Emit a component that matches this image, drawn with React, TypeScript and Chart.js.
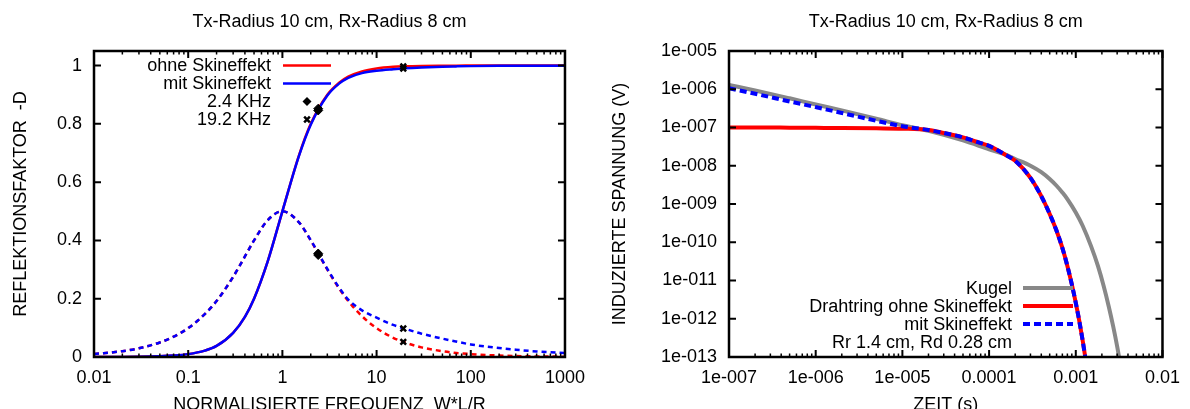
import React, { useEffect, useRef } from "react";
import { Chart, registerables } from "chart.js";

Chart.register(...registerables);

const FONT = "'Liberation Sans', Arial, Helvetica, sans-serif";
const FONT_SIZE = 18;
const CANVAS_W = 595;
const CANVAS_H = 420;
const PLOT_TOP = 51;
const PLOT_BOTTOM = 357;

const TITLE = "Tx-Radius 10 cm, Rx-Radius 8 cm";

// ---------- left chart: reflection factor vs normalised frequency ----------
const freq = [0.01, 0.02, 0.03, 0.05, 0.07, 0.1, 0.15, 0.2, 0.3, 0.4, 0.5, 0.7, 1, 1.5, 2, 3, 4, 5, 7, 10, 15, 20, 30, 50, 70, 100, 200, 300, 500, 1000];
const ohneReal = [0.0001, 0.0004, 0.0009, 0.0025, 0.0049, 0.0099, 0.022, 0.038, 0.083, 0.138, 0.2, 0.329, 0.5, 0.692, 0.8, 0.9, 0.941, 0.962, 0.98, 0.99, 0.9956, 0.9975, 0.9989, 0.9996, 0.9998, 0.9999, 1, 1, 1, 1];
const ohneImag = [0.01, 0.02, 0.03, 0.0499, 0.0697, 0.099, 0.147, 0.192, 0.275, 0.345, 0.4, 0.47, 0.5, 0.462, 0.4, 0.3, 0.235, 0.192, 0.14, 0.099, 0.066, 0.05, 0.033, 0.02, 0.014, 0.01, 0.005, 0.0033, 0.002, 0.001];
const mitReal = [0.0001, 0.0004, 0.0009, 0.0025, 0.0049, 0.0099, 0.022, 0.038, 0.083, 0.138, 0.2, 0.329, 0.5, 0.69, 0.797, 0.897, 0.938, 0.958, 0.974, 0.982, 0.9875, 0.9907, 0.9937, 0.9962, 0.9972, 0.9981, 0.9991, 0.9994, 0.9996, 0.9998];
const mitImag = [0.01, 0.02, 0.03, 0.0499, 0.0697, 0.099, 0.147, 0.192, 0.275, 0.345, 0.4, 0.47, 0.5, 0.462, 0.401, 0.302, 0.238, 0.197, 0.16, 0.135, 0.11, 0.097, 0.08, 0.063, 0.053, 0.043, 0.031, 0.025, 0.019, 0.0135];

const khz24X = [2.4, 2.4, 2.4, 2.4];
const khz24Y = [0.852, 0.846, 0.355, 0.35];
const khz192X = [19.2, 19.2, 19.2, 19.2];
const khz192Y = [0.9973, 0.99, 0.052, 0.098];

const freqTicks = [0.01, 0.1, 1, 10, 100, 1000];
const freqTickLabels = ["0.01", "0.1", "1", "10", "100", "1000"];
const reflTicks = [0, 0.2, 0.4, 0.6, 0.8, 1];
const reflTickLabels = ["0", "0.2", "0.4", "0.6", "0.8", "1"];

// ---------- right chart: induced voltage vs time ----------
const zeit = [1e-7, 2e-7, 5e-7, 1e-6, 2e-6, 5e-6, 1e-5, 2e-5, 3e-5, 5e-5, 7e-5, 1e-4, 1.5e-4, 2e-4, 3e-4, 4e-4, 5e-4, 6e-4, 7e-4, 8e-4, 9e-4, 1e-3, 1.1e-3, 1.2e-3, 1.3e-3];
const drahtOhne = [1e-7, 1e-7, 9.9e-8, 9.8e-8, 9.7e-8, 9.5e-8, 9.3e-8, 8.6e-8, 7.2e-8, 5.5e-8, 4.3e-8, 3.3e-8, 2.0e-8, 1.35e-8, 4.8e-9, 1.6e-9, 5.5e-10, 2.0e-10, 7.1e-11, 2.4e-11, 7.9e-12, 2.6e-12, 8.5e-13, 2.7e-13, 8.5e-14];
const drahtMit = [1.06e-6, 7.6e-7, 4.8e-7, 3.4e-7, 2.4e-7, 1.5e-7, 1.08e-7, 8.6e-8, 7.2e-8, 5.5e-8, 4.3e-8, 3.3e-8, 2.0e-8, 1.35e-8, 4.8e-9, 1.6e-9, 5.5e-10, 2.0e-10, 7.1e-11, 2.4e-11, 7.9e-12, 2.6e-12, 8.5e-13, 2.7e-13, 8.5e-14];
const kugelT = [1e-7, 2e-7, 5e-7, 1e-6, 2e-6, 5e-6, 1e-5, 2e-5, 5e-5, 1e-4, 1.5e-4, 2e-4, 3e-4, 4e-4, 5e-4, 6e-4, 7e-4, 8e-4, 1e-3, 1.2e-3, 1.5e-3, 1.8e-3, 2.1e-3, 2.4e-3, 2.7e-3, 3e-3, 3.3e-3];
const kugelV = [1.29e-6, 9.3e-7, 5.8e-7, 4.0e-7, 2.8e-7, 1.7e-7, 1.15e-7, 8.2e-8, 4.6e-8, 2.7e-8, 2.0e-8, 1.5e-8, 1.0e-8, 6.8e-9, 4.5e-9, 3.0e-9, 2.0e-9, 1.35e-9, 6.0e-10, 2.7e-10, 7.9e-11, 2.4e-11, 7.1e-12, 2.1e-12, 6.3e-13, 1.9e-13, 5.6e-14];

const zeitTicks = [1e-7, 1e-6, 1e-5, 1e-4, 1e-3, 1e-2];
const zeitTickLabels = ["1e-007", "1e-006", "1e-005", "0.0001", "0.001", "0.01"];
const spannungTicks = [1e-13, 1e-12, 1e-11, 1e-10, 1e-9, 1e-8, 1e-7, 1e-6, 1e-5];
const spannungTickLabels = ["1e-013", "1e-012", "1e-011", "1e-010", "1e-009", "1e-008", "1e-007", "1e-006", "1e-005"];

// ---------- helpers ----------
const pts = (xs: number[], ys: number[]) => xs.map((x, i) => ({ x, y: ys[i] }));
const logMinor = (from: number, to: number) => {
  const out: number[] = [];
  for (let e = from; e < to; e++) for (let m = 2; m <= 9; m++) out.push(m * Math.pow(10, e));
  return out;
};
const font = { family: FONT, size: FONT_SIZE, weight: "normal" as const };

type LegendItem = { label: string; kind: "line" | "dash" | "diamond" | "cross" | "none"; color: string; width: number; dash?: number[] };

function framePlugin(o: { xMajor: number[]; xMinor: number[]; yMajor: number[]; yMinor: number[]; title: string }) {
  return {
    id: "frame",
    afterDatasetsDraw(chart: any) {
      const { ctx, chartArea: a, scales } = chart;
      const sx = scales.x;
      const sy = scales.y;
      ctx.save();
      ctx.strokeStyle = "#000";
      const vt = (vals: number[], len: number, lw: number) => {
        ctx.lineWidth = lw;
        ctx.beginPath();
        for (const v of vals) {
          const p = sx.getPixelForValue(v);
          if (p < a.left - 0.5 || p > a.right + 0.5) continue;
          ctx.moveTo(p, a.bottom);
          ctx.lineTo(p, a.bottom - len);
          ctx.moveTo(p, a.top);
          ctx.lineTo(p, a.top + len);
        }
        ctx.stroke();
      };
      const ht = (vals: number[], len: number, lw: number) => {
        ctx.lineWidth = lw;
        ctx.beginPath();
        for (const v of vals) {
          const p = sy.getPixelForValue(v);
          if (p < a.top - 0.5 || p > a.bottom + 0.5) continue;
          ctx.moveTo(a.left, p);
          ctx.lineTo(a.left + len, p);
          ctx.moveTo(a.right, p);
          ctx.lineTo(a.right - len, p);
        }
        ctx.stroke();
      };
      vt(o.xMajor, 7, 2);
      vt(o.xMinor, 3.5, 1.5);
      ht(o.yMajor, 7, 2);
      ht(o.yMinor, 3.5, 1.5);
      ctx.lineWidth = 2.5;
      ctx.strokeRect(a.left, a.top, a.right - a.left, a.bottom - a.top);
      // chart title, centred over the plot area
      ctx.fillStyle = "#000";
      ctx.font = `${FONT_SIZE}px ${FONT}`;
      ctx.textAlign = "center";
      ctx.textBaseline = "middle";
      ctx.fillText(o.title, (a.left + a.right) / 2, 22);
      ctx.restore();
    },
  };
}

function legendPlugin(o: { textRight: number; x0: number; x1: number; y0: number; dy: number; items: LegendItem[] }) {
  return {
    id: "customLegend",
    afterDraw(chart: any) {
      const ctx: CanvasRenderingContext2D = chart.ctx;
      ctx.save();
      ctx.font = `${FONT_SIZE}px ${FONT}`;
      ctx.textAlign = "right";
      ctx.textBaseline = "middle";
      o.items.forEach((it, i) => {
        const y = o.y0 + i * o.dy;
        ctx.fillStyle = "#000";
        ctx.fillText(it.label, o.textRight, y + 1);
        const cx = (o.x0 + o.x1) / 2;
        if (it.kind === "line" || it.kind === "dash") {
          ctx.strokeStyle = it.color;
          ctx.lineWidth = it.width;
          ctx.setLineDash(it.kind === "dash" ? it.dash || [] : []);
          ctx.beginPath();
          ctx.moveTo(o.x0, y);
          ctx.lineTo(o.x1, y);
          ctx.stroke();
          ctx.setLineDash([]);
        } else if (it.kind === "diamond") {
          const r = 4.5;
          ctx.fillStyle = it.color;
          ctx.beginPath();
          ctx.moveTo(cx, y - r);
          ctx.lineTo(cx + r, y);
          ctx.lineTo(cx, y + r);
          ctx.lineTo(cx - r, y);
          ctx.closePath();
          ctx.fill();
        } else if (it.kind === "cross") {
          const r = 4 * Math.SQRT1_2;
          ctx.strokeStyle = it.color;
          ctx.lineWidth = it.width;
          ctx.beginPath();
          ctx.moveTo(cx - r, y - r);
          ctx.lineTo(cx + r, y + r);
          ctx.moveTo(cx - r, y + r);
          ctx.lineTo(cx + r, y - r);
          ctx.stroke();
        }
      });
      ctx.restore();
    },
  };
}

const commonOptions = {
  animation: false as const,
  responsive: false,
  devicePixelRatio: 1,
  events: [] as any[],
};

function axisX(min: number, max: number, ticks: number[], labels: string[], title: string) {
  return {
    type: "logarithmic",
    min,
    max,
    grid: { display: false, drawTicks: false },
    border: { display: false },
    afterBuildTicks: (s: any) => { s.ticks = ticks.map((v) => ({ value: v })); },
    afterFit: (s: any) => { s.height = CANVAS_H - PLOT_BOTTOM; },
    ticks: { autoSkip: false, maxRotation: 0, padding: 10, color: "#000", font, callback: (_v: any, i: number) => labels[i] },
    title: { display: true, text: title, color: "#000", font, padding: { top: 0, bottom: 4 } },
  };
}

function leftConfig(): any {
  return {
    type: "line",
    data: {
      datasets: [
        { label: "2.4 KHz", data: pts(khz24X, khz24Y), showLine: false, pointStyle: "rectRot", pointRadius: 4.5, backgroundColor: "#000", borderColor: "#000", borderWidth: 1, order: 0 },
        { label: "19.2 KHz", data: pts(khz192X, khz192Y), showLine: false, pointStyle: "crossRot", pointRadius: 4, backgroundColor: "#000", borderColor: "#000", borderWidth: 2.5, order: 0 },
        { label: "mit Skineffekt", data: pts(freq, mitReal), borderColor: "#0000ff", borderWidth: 2.5, pointRadius: 0, cubicInterpolationMode: "monotone", order: 1 },
        { label: "mit Skineffekt (Imag.)", data: pts(freq, mitImag), borderColor: "#0000ff", borderWidth: 2.5, borderDash: [5, 4], pointRadius: 0, cubicInterpolationMode: "monotone", order: 2 },
        { label: "ohne Skineffekt", data: pts(freq, ohneReal), borderColor: "#ff0000", borderWidth: 2.5, pointRadius: 0, cubicInterpolationMode: "monotone", order: 3 },
        { label: "ohne Skineffekt (Imag.)", data: pts(freq, ohneImag), borderColor: "#ff0000", borderWidth: 2.5, borderDash: [5, 4], pointRadius: 0, cubicInterpolationMode: "monotone", order: 4 },
      ],
    },
    options: {
      ...commonOptions,
      layout: { padding: { left: 0, right: CANVAS_W - 569, top: PLOT_TOP, bottom: 0 } },
      plugins: { legend: { display: false }, tooltip: { enabled: false }, title: { display: false } },
      scales: {
        x: axisX(0.01, 1000, freqTicks, freqTickLabels, "NORMALISIERTE FREQUENZ  W*L/R"),
        y: {
          type: "linear",
          min: 0,
          max: 1.05,
          grid: { display: false, drawTicks: false },
          border: { display: false },
          afterBuildTicks: (s: any) => { s.ticks = reflTicks.map((v) => ({ value: v })); },
          afterFit: (s: any) => { s.width = 94; },
          ticks: { autoSkip: false, padding: 12, color: "#000", font, callback: (_v: any, i: number) => reflTickLabels[i] },
          title: { display: true, text: "REFLEKTIONSFAKTOR  -D", color: "#000", font, padding: { top: 10, bottom: 0 } },
        },
      },
    },
    plugins: [
      framePlugin({ xMajor: freqTicks, xMinor: logMinor(-2, 3), yMajor: reflTicks, yMinor: [], title: TITLE }),
      legendPlugin({
        textRight: 271,
        x0: 283,
        x1: 331,
        y0: 65.5,
        dy: 18,
        items: [
          { label: "ohne Skineffekt", kind: "line", color: "#ff0000", width: 2.5 },
          { label: "mit Skineffekt", kind: "line", color: "#0000ff", width: 2.5 },
          { label: "2.4 KHz", kind: "diamond", color: "#000", width: 1 },
          { label: "19.2 KHz", kind: "cross", color: "#000", width: 2.5 },
        ],
      }),
    ],
  };
}

function rightConfig(): any {
  return {
    type: "line",
    data: {
      datasets: [
        { label: "mit Skineffekt", data: pts(zeit, drahtMit), borderColor: "#0000ff", borderWidth: 4, borderDash: [7, 4], pointRadius: 0, cubicInterpolationMode: "monotone", order: 0 },
        { label: "Drahtring ohne Skineffekt", data: pts(zeit, drahtOhne), borderColor: "#ff0000", borderWidth: 4, pointRadius: 0, cubicInterpolationMode: "monotone", order: 1 },
        { label: "Kugel", data: pts(kugelT, kugelV), borderColor: "#888888", borderWidth: 4, pointRadius: 0, cubicInterpolationMode: "monotone", order: 2 },
      ],
    },
    options: {
      ...commonOptions,
      layout: { padding: { left: 0, right: CANVAS_W - 578, top: PLOT_TOP, bottom: 0 } },
      plugins: { legend: { display: false }, tooltip: { enabled: false }, title: { display: false } },
      scales: {
        x: axisX(1e-7, 1e-2, zeitTicks, zeitTickLabels, "ZEIT (s)"),
        y: {
          type: "logarithmic",
          min: 1e-13,
          max: 1e-5,
          grid: { display: false, drawTicks: false },
          border: { display: false },
          afterBuildTicks: (s: any) => { s.ticks = spannungTicks.map((v) => ({ value: v })); },
          afterFit: (s: any) => { s.width = 134; },
          ticks: { autoSkip: false, padding: 12, color: "#000", font, callback: (_v: any, i: number) => spannungTickLabels[i] },
          title: { display: true, text: "INDUZIERTE SPANNUNG (V)", color: "#000", font, padding: { top: 14, bottom: 0 } },
        },
      },
    },
    plugins: [
      framePlugin({ xMajor: zeitTicks, xMinor: logMinor(-7, -2), yMajor: spannungTicks, yMinor: [], title: TITLE }),
      legendPlugin({
        textRight: 417,
        x0: 428,
        x1: 478,
        y0: 288,
        dy: 18,
        items: [
          { label: "Kugel", kind: "line", color: "#888888", width: 4 },
          { label: "Drahtring ohne Skineffekt", kind: "line", color: "#ff0000", width: 4 },
          { label: "mit Skineffekt", kind: "dash", color: "#0000ff", width: 4, dash: [7, 4] },
          { label: "Rr 1.4 cm, Rd 0.28 cm", kind: "none", color: "#000", width: 0 },
        ],
      }),
    ],
  };
}

export default function App() {
  const leftRef = useRef<HTMLCanvasElement>(null);
  const rightRef = useRef<HTMLCanvasElement>(null);

  useEffect(() => {
    const c1 = new Chart(leftRef.current as HTMLCanvasElement, leftConfig());
    const c2 = new Chart(rightRef.current as HTMLCanvasElement, rightConfig());
    return () => {
      c1.destroy();
      c2.destroy();
    };
  }, []);

  return (
    <div style={{ position: "fixed", left: 0, top: 0, width: 1190, height: 409, overflow: "hidden", background: "#fff" }}>
      <canvas ref={leftRef} width={CANVAS_W} height={CANVAS_H} style={{ position: "absolute", left: 0, top: 0 }} />
      <canvas ref={rightRef} width={CANVAS_W} height={CANVAS_H} style={{ position: "absolute", left: CANVAS_W, top: 0 }} />
    </div>
  );
}
